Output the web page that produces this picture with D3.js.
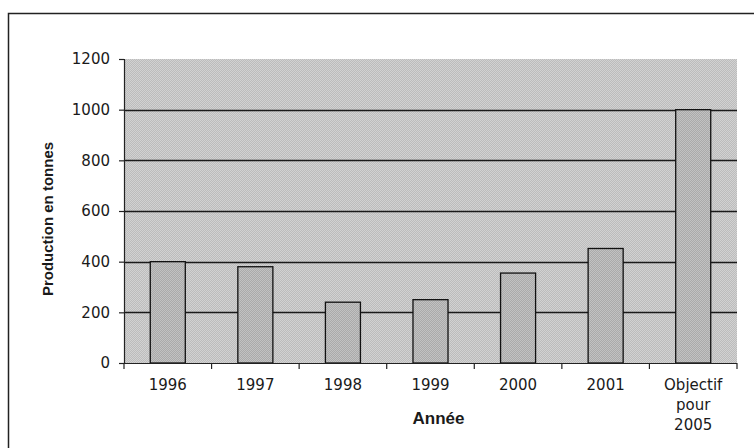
<!DOCTYPE html>
<html>
<head>
<meta charset="utf-8">
<script src="https://cdn.jsdelivr.net/npm/d3@7"></script>
<style>
  html, body { margin: 0; padding: 0; background: #fff; }
  svg { display: block; }
  .tick text { font-family: "DejaVu Sans", sans-serif; font-size: 15px; fill: #1a1a1a; }
</style>
</head>
<body>
<div id="chart"></div>
<script>
// data
const years = ["1996", "1997", "1998", "1999", "2000", "2001", "Objectif pour 2005"];
const production = [400, 380, 240, 250, 355, 452, 1000];
const yTicks = [0, 200, 400, 600, 800, 1000, 1200];

const W = 754, H = 448;
const margin = { top: 59, right: 17, bottom: 85, left: 124 };
const innerWidth = W - margin.left - margin.right;
const innerHeight = H - margin.top - margin.bottom;

const svg = d3.select("#chart").append("svg").attr("width", W).attr("height", H);

// dither-ish fills
const defs = svg.append("defs");
function dither(id, a, b) {
  const p = defs.append("pattern").attr("id", id).attr("width", 2).attr("height", 2)
    .attr("patternUnits", "userSpaceOnUse");
  p.append("rect").attr("width", 2).attr("height", 2).attr("fill", a);
  p.append("rect").attr("width", 1).attr("height", 1).attr("fill", b);
  p.append("rect").attr("x", 1).attr("y", 1).attr("width", 1).attr("height", 1).attr("fill", b);
}
dither("bgFill", "#d2d2d2", "#bcbcbc");
dither("barFill", "#c2c2c2", "#aaaaaa");

// outer frame (runs off the right and bottom of the scan)
svg.append("path").attr("d", "M754,13.5H8.5V448")
  .attr("fill", "none").attr("stroke", "#222").attr("stroke-width", 1.5);

const chart = svg.append("g").attr("transform", `translate(${margin.left},${margin.top})`);

const x = d3.scaleBand().domain(years).range([0, innerWidth]).paddingInner(0.6).paddingOuter(0.3);
const xb = d3.scaleBand().domain(years).range([0, innerWidth]);
const y = d3.scaleLinear().domain([0, 1200]).range([innerHeight, 0]);

chart.append("rect").attr("width", innerWidth).attr("height", innerHeight).attr("fill", "url(#bgFill)");

// gridlines
chart.append("g").selectAll("line").data(yTicks.filter(d => d > 0 && d < 1200)).enter().append("line")
  .attr("x1", 0).attr("x2", innerWidth)
  .attr("y1", d => Math.round(y(d)) + 0.5).attr("y2", d => Math.round(y(d)) + 0.5)
  .attr("stroke", "#1a1a1a").attr("stroke-width", 1.3);

// bars
chart.selectAll("rect.bar").data(years).enter().append("rect").attr("class", "bar")
  .attr("x", d => x(d))
  .attr("y", (d, i) => y(production[i]))
  .attr("width", x.bandwidth())
  .attr("height", (d, i) => innerHeight - y(production[i]))
  .attr("fill", "url(#barFill)")
  .attr("stroke", "#111").attr("stroke-width", 1.3);

// y axis
const yAxis = chart.append("g")
  .call(d3.axisLeft(y).tickValues(yTicks).tickFormat(d3.format("d")).tickSize(5).tickPadding(9));
yAxis.selectAll("line, path").attr("stroke", "#222").attr("stroke-width", 1.2);
yAxis.select(".domain").attr("d", `M0.5,${innerHeight}V0`);

// x axis with ticks on band boundaries
const xAxis = chart.append("g").attr("transform", `translate(0,${innerHeight})`);
xAxis.append("line").attr("x1", 0).attr("x2", innerWidth).attr("y1", 0.5).attr("y2", 0.5)
  .attr("stroke", "#222").attr("stroke-width", 1.2);
const bounds = years.map(d => xb(d)).concat([innerWidth]);
xAxis.selectAll("line.tk").data(bounds).enter().append("line").attr("class", "tk")
  .attr("x1", d => d).attr("x2", d => d).attr("y1", 0).attr("y2", 6)
  .attr("stroke", "#222").attr("stroke-width", 1.2);
const lab = xAxis.selectAll("text").data(years).enter().append("text")
  .attr("x", d => xb(d) + xb.bandwidth() / 2)
  .attr("y", 27)
  .attr("text-anchor", "middle")
  .attr("font-family", "DejaVu Sans, sans-serif").attr("font-size", 15).attr("fill", "#1a1a1a");
lab.each(function(d) {
  const words = d.split(" ");
  const t = d3.select(this);
  words.forEach((w, i) => t.append("tspan").attr("x", t.attr("x")).attr("dy", i === 0 ? 0 : 20).text(w));
});

// axis titles
svg.append("text").attr("x", margin.left + innerWidth / 2 + 8).attr("y", 424)
  .attr("text-anchor", "middle").attr("font-family", "Liberation Sans, Arial, sans-serif")
  .attr("font-weight", "bold").attr("font-size", 17).attr("fill", "#1a1a1a").text("Année");
svg.append("text").attr("transform", `translate(53,${margin.top + innerHeight / 2 + 8}) rotate(-90)`)
  .attr("text-anchor", "middle").attr("font-family", "Liberation Sans, Arial, sans-serif")
  .attr("font-weight", "bold").attr("font-size", 15).attr("fill", "#1a1a1a").text("Production en tonnes");
</script>
</body>
</html>
